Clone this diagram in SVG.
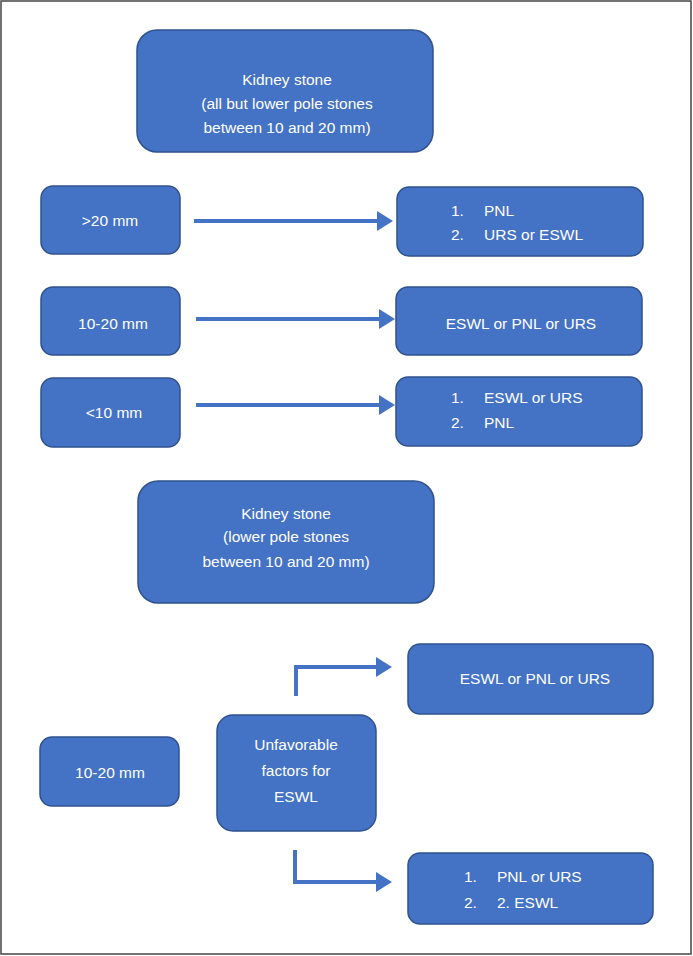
<svg xmlns="http://www.w3.org/2000/svg" width="693" height="956" viewBox="0 0 693 956">
<style>
.n{fill:#4472C4;stroke:#2F528F;stroke-width:1.5}
.t{fill:#fff;font-family:"Liberation Sans",Arial,sans-serif;font-size:15.5px;text-anchor:middle}
.l{fill:#fff;font-family:"Liberation Sans",Arial,sans-serif;font-size:15.5px}
.c{fill:none;stroke:#4472C4;stroke-width:4}
</style>
<defs><marker id="a" markerWidth="4" markerHeight="5" refX="0.5" refY="2.5" orient="auto"><path d="M0,0L4,2.5L0,5z" fill="#4472C4"/></marker></defs>
<rect x="0" y="0" width="693" height="956" fill="#fff"/>
<rect x="1" y="1" width="690" height="953" fill="none" stroke="#444" stroke-width="1.5"/>
<g id="connectors">
<path class="c" d="M194,221H379" marker-end="url(#a)"/>
<path class="c" d="M196,319H381" marker-end="url(#a)"/>
<path class="c" d="M196,405H381" marker-end="url(#a)"/>
<path class="c" d="M296,696V667H378" marker-end="url(#a)"/>
<path class="c" d="M295,850V882H378" marker-end="url(#a)"/>
</g>
<g id="top"><rect class="n" x="137" y="30" width="296" height="122" rx="20"/><text class="t" x="287" y="85">Kidney stone</text><text class="t" x="287" y="119" dy="-10">(all but lower pole stones</text><text class="t" x="287" y="143" dy="-10">between 10 and 20 mm)</text></g>
<g id="gt20"><rect class="n" x="41" y="186" width="139" height="68" rx="12"/><text class="t" x="110" y="226">&gt;20 mm</text></g>
<g id="r1"><rect class="n" x="397" y="187" width="246" height="69" rx="12"/><text class="l" x="451" y="216">1.</text><text class="l" x="484" y="216">PNL</text><text class="l" x="451" y="240">2.</text><text class="l" x="484" y="240">URS or ESWL</text></g>
<g id="m1020"><rect class="n" x="41" y="287" width="139" height="68" rx="12"/><text class="t" x="113" y="329">10-20 mm</text></g>
<g id="r2"><rect class="n" x="396" y="287" width="246" height="68" rx="12"/><text class="t" x="521" y="329">ESWL  or PNL or URS</text></g>
<g id="lt10"><rect class="n" x="41" y="378" width="139" height="69" rx="12"/><text class="t" x="114" y="418">&lt;10 mm</text></g>
<g id="r3"><rect class="n" x="396" y="377" width="246" height="69" rx="12"/><text class="l" x="451" y="403">1.</text><text class="l" x="484" y="403">ESWL or URS</text><text class="l" x="451" y="428">2.</text><text class="l" x="484" y="428">PNL</text></g>
<g id="top2"><rect class="n" x="138" y="481" width="296" height="122" rx="20"/><text class="t" x="286" y="519">Kidney stone</text><text class="t" x="286" y="542">(lower pole stones</text><text class="t" x="286" y="567">between 10 and 20 mm)</text></g>
<g id="b1020"><rect class="n" x="40" y="737" width="139" height="69" rx="12"/><text class="t" x="110" y="778">10-20 mm</text></g>
<g id="unf"><rect class="n" x="217" y="715" width="159" height="116" rx="16"/><text class="t" x="296" y="750">Unfavorable</text><text class="t" x="296" y="776">factors for</text><text class="t" x="296" y="802">ESWL</text></g>
<g id="r4"><rect class="n" x="408" y="644" width="245" height="70" rx="12"/><text class="t" x="535" y="684">ESWL  or PNL or URS</text></g>
<g id="r5"><rect class="n" x="408" y="853" width="245" height="71" rx="12"/><text class="l" x="464" y="882">1.</text><text class="l" x="497" y="882">PNL or URS</text><text class="l" x="464" y="908">2.</text><text class="l" x="497" y="908">2. ESWL</text></g>
</svg>
